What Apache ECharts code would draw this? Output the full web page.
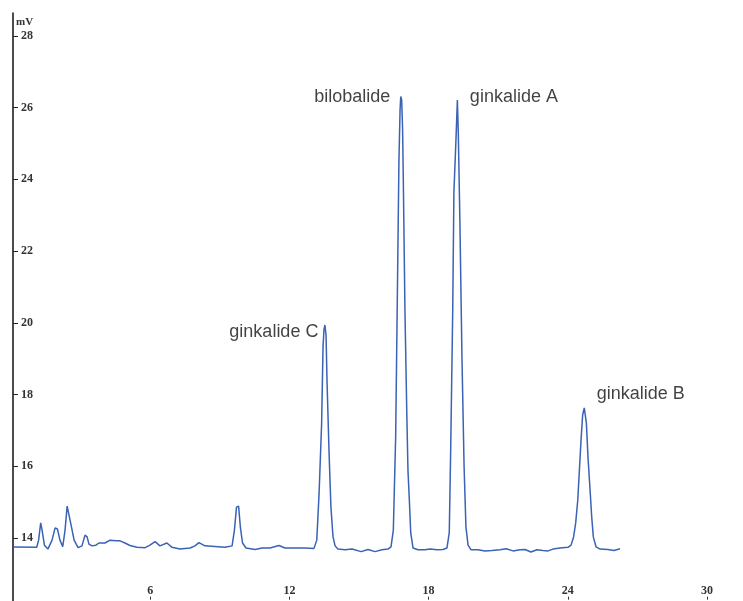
<!DOCTYPE html>
<html>
<head>
<meta charset="utf-8">
<script src="https://cdn.jsdelivr.net/npm/echarts@6/dist/echarts.min.js"></script>
<style>
html,body{margin:0;padding:0;background:#fff;}
#chart{width:743px;height:601px;}
</style>
</head>
<body>
<div id="chart"></div>
<script>
// Retention time (min)
const timeMin = [
  0.13,1.11,1.19,1.28,1.34,1.44,1.59,1.77,1.90,2.00,2.11,2.23,2.33,2.42,2.48,2.59,2.72,2.89,3.06,3.19,
  3.28,3.36,3.49,3.66,3.79,4.05,4.27,4.53,4.70,4.91,5.13,5.43,5.78,5.99,6.21,6.42,6.72,6.94,7.28,7.72,
  7.93,8.10,8.36,8.79,9.22,9.53,9.63,9.72,9.81,9.89,9.98,10.13,10.52,10.82,11.16,11.55,11.81,12.24,12.67,13.06,
  13.18,13.28,13.39,13.45,13.49,13.53,13.58,13.62,13.71,13.79,13.88,13.97,14.09,14.40,14.70,15.09,15.39,15.69,15.99,16.25,
  16.38,16.48,16.58,16.65,16.72,16.77,16.80,16.84,16.88,16.91,16.98,17.06,17.11,17.17,17.23,17.33,17.54,17.84,18.06,18.36,
  18.62,18.79,18.89,18.95,19.04,19.09,19.19,19.24,19.28,19.35,19.44,19.53,19.61,19.70,19.83,20.13,20.43,20.73,21.08,21.34,
  21.64,21.94,22.16,22.41,22.67,22.93,23.15,23.36,23.66,24.01,24.14,24.25,24.34,24.43,24.50,24.57,24.64,24.71,24.80,24.87,
  24.96,25.03,25.10,25.22,25.39,25.73,25.99,26.25
];
// Signal (mV)
const signalMV = [
  13.75,13.74,13.94,14.42,14.22,13.80,13.69,13.94,14.28,14.25,13.94,13.76,14.22,14.89,14.84,14.36,13.94,13.73,13.78,14.08,
  14.03,13.83,13.78,13.80,13.86,13.86,13.94,13.92,13.92,13.86,13.79,13.74,13.73,13.80,13.90,13.78,13.86,13.74,13.69,13.72,
  13.78,13.87,13.78,13.76,13.74,13.78,14.22,14.86,14.89,14.28,13.86,13.72,13.68,13.72,13.72,13.79,13.72,13.72,13.72,13.71,
  13.94,15.25,17.21,19.33,19.80,19.94,19.66,18.41,16.37,14.86,14.03,13.78,13.69,13.67,13.69,13.62,13.68,13.62,13.67,13.69,
  13.75,14.22,16.82,20.58,24.46,25.94,26.31,26.21,25.38,23.98,20.36,17.49,15.90,15.06,14.14,13.72,13.67,13.67,13.69,13.67,
  13.68,13.72,14.14,16.37,20.36,23.62,25.29,26.21,25.29,22.78,18.96,15.98,14.31,13.80,13.67,13.67,13.64,13.65,13.67,13.70,
  13.64,13.67,13.68,13.61,13.67,13.65,13.64,13.69,13.72,13.74,13.80,14.03,14.42,15.06,15.90,16.73,17.43,17.63,17.21,16.26,
  15.34,14.59,14.03,13.75,13.69,13.68,13.65,13.70
];
// Peak annotations
const peakNames = ['ginkalide C', 'bilobalide', 'ginkalide A', 'ginkalide B'];
const peakTimes = [13.53, 16.80, 19.24, 24.71];
const peakValues = [19.94, 26.31, 26.21, 17.63];
// Axis ticks
const xTicks = [6, 12, 18, 24, 30];
const yTicks = [14, 16, 18, 20, 22, 24, 26, 28];

const labelStyles = [
  {position: 'left', distance: 6, offset: [0, 7]},
  {position: 'left', distance: 10, offset: [0, 0]},
  {position: 'right', distance: 12, offset: [0, -3]},
  {position: 'right', distance: 12, offset: [0, -14]}
];

const chart = echarts.init(document.getElementById('chart'), null, {renderer: 'canvas'});
const lineData = timeMin.map((t, i) => [t, signalMV[i]]);
const annData = peakNames.map((n, i) => ({
  value: [peakTimes[i], peakValues[i]],
  name: n,
  label: {
    show: true,
    formatter: n,
    position: labelStyles[i].position,
    distance: labelStyles[i].distance,
    offset: labelStyles[i].offset
  }
}));

chart.setOption({
  animation: false,
  backgroundColor: '#ffffff',
  grid: {left: 11, top: 13, width: 696, height: 596.7, containLabel: false, outerBoundsMode: 'none'},
  xAxis: {
    type: 'value', min: 0, max: 30, interval: 6,
    offset: -10,
    axisLine: {show: false},
    axisTick: {show: true, inside: true, length: 3, customValues: xTicks, lineStyle: {color: '#333'}},
    splitLine: {show: false},
    axisLabel: {
      inside: true, margin: 3, customValues: xTicks,
      fontFamily: 'Liberation Serif', fontSize: 12, fontWeight: 'bold', color: '#333',
      formatter: v => xTicks.indexOf(v) >= 0 ? String(v) : ''
    }
  },
  yAxis: {
    type: 'value', min: 12, max: 28.64, interval: 2,
    offset: -2,
    name: 'mV', nameLocation: 'end', nameGap: -9,
    nameTextStyle: {fontFamily: 'Liberation Serif', fontSize: 11, fontWeight: 'bold', color: '#333', align: 'left', verticalAlign: 'middle', padding: [0, 0, 0, 3]},
    axisLine: {show: true, lineStyle: {color: '#111', width: 1.5}},
    axisTick: {show: true, inside: true, length: 5, customValues: yTicks, lineStyle: {color: '#222'}},
    splitLine: {show: false},
    axisLabel: {
      inside: true, margin: 8, customValues: yTicks,
      fontFamily: 'Liberation Serif', fontSize: 12, fontWeight: 'bold', color: '#333',
      formatter: v => yTicks.indexOf(v) >= 0 ? String(v) : ''
    }
  },
  series: [
    {
      type: 'line',
      data: lineData,
      showSymbol: false,
      symbol: 'none',
      lineStyle: {color: '#3a62b5', width: 1.5},
      z: 2
    },
    {
      type: 'scatter',
      data: annData,
      symbolSize: 1,
      itemStyle: {color: 'rgba(255,255,255,0)'},
      label: {show: true, fontFamily: 'Liberation Sans', fontSize: 18, color: '#111'},
      silent: true,
      z: 3
    }
  ]
});
</script>
</body>
</html>
